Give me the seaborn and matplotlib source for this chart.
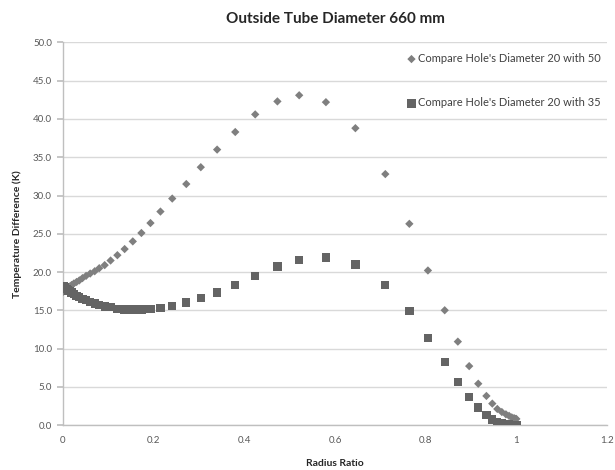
import matplotlib
matplotlib.use("Agg")
import matplotlib.pyplot as plt
import seaborn as sns
import pandas as pd

radius_ratio = [0, 0.001, 0.003, 0.005, 0.008, 0.011, 0.015, 0.019, 0.024, 0.030,
                0.036, 0.043, 0.051, 0.060, 0.070, 0.080, 0.092, 0.105, 0.120, 0.136,
                0.154, 0.173, 0.193, 0.215, 0.241, 0.272, 0.304, 0.340, 0.380, 0.424,
                0.473, 0.521, 0.580, 0.645, 0.711, 0.764, 0.805, 0.842, 0.871, 0.896,
                0.916, 0.934, 0.947, 0.958, 0.968, 0.977, 0.984, 0.990, 0.995, 0.998, 1.0]

diff_20_50 = [17.4, 17.5, 17.6, 17.7, 17.8, 17.9, 18.1, 18.3, 18.5, 18.7,
              18.9, 19.2, 19.5, 19.8, 20.1, 20.5, 20.9, 21.5, 22.2, 23.0,
              24.0, 25.1, 26.4, 27.9, 29.6, 31.5, 33.7, 36.0, 38.3, 40.6,
              42.3, 43.1, 42.2, 38.8, 32.8, 26.3, 20.2, 15.0, 10.9, 7.7,
              5.4, 3.8, 2.8, 2.1, 1.7, 1.4, 1.2, 1.0, 0.9, 0.8, 0.8]

diff_20_35 = [18.2, 18.1, 18.0, 17.9, 17.8, 17.6, 17.5, 17.3, 17.1, 16.9,
              16.7, 16.5, 16.3, 16.1, 15.9, 15.7, 15.5, 15.4, 15.2, 15.1,
              15.1, 15.1, 15.2, 15.3, 15.6, 16.0, 16.6, 17.3, 18.3, 19.5,
              20.7, 21.6, 21.9, 21.0, 18.3, 14.9, 11.4, 8.2, 5.6, 3.7,
              2.3, 1.3, 0.7, 0.4, 0.2, 0.1, 0.05, 0.0, 0.0, 0.0, 0.0]

label_50 = "Compare Hole's Diameter 20 with 50"
label_35 = "Compare Hole's Diameter 20 with 35"
x_ticks = [0, 0.2, 0.4, 0.6, 0.8, 1, 1.2]
y_ticks = [0, 5, 10, 15, 20, 25, 30, 35, 40, 45, 50]

sns.set_theme(style="white")
plt.rcParams["font.family"] = ["Lato", "DejaVu Sans"]

df50 = pd.DataFrame({"x": radius_ratio, "y": diff_20_50})
df35 = pd.DataFrame({"x": radius_ratio, "y": diff_20_35})

fig = plt.figure(figsize=(6.15, 4.7), dpi=100)
ax = fig.add_axes([0.1024, 0.0957, 0.8846, 0.8139])

sns.scatterplot(data=df50, x="x", y="y", ax=ax, marker="D", s=18,
                color="#7f7f7f", edgecolor="none", label=label_50, zorder=3)
sns.scatterplot(data=df35, x="x", y="y", ax=ax, marker="s", s=36,
                color="#646464", edgecolor="none", label=label_35, zorder=3)

ax.set_xlim(0, 1.2)
ax.set_ylim(0, 50)
ax.set_xticks(x_ticks)
ax.set_xticklabels([str(t) for t in x_ticks])
ax.set_yticks(y_ticks)
ax.set_yticklabels([f"{t:.1f}" for t in y_ticks])
ax.yaxis.grid(True, color="#d9d9d9", linewidth=1.0)
ax.xaxis.grid(False)
ax.set_axisbelow(True)
for side in ["top", "right"]:
    ax.spines[side].set_visible(False)
for side in ["left", "bottom"]:
    ax.spines[side].set_color("#bfbfbf")
    ax.spines[side].set_linewidth(1.0)
ax.tick_params(axis="y", which="major", left=True, length=4, color="#bfbfbf",
               labelsize=7, labelcolor="#595959", pad=4)
ax.tick_params(axis="x", which="major", bottom=False, length=0, labelsize=7,
               labelcolor="#595959", pad=8)

ax.set_xlabel("Radius Ratio", fontsize=7.5, fontweight="bold", color="#262626", labelpad=10)
ax.set_ylabel("Temperature Difference (K)", fontsize=7.5, fontweight="bold",
              color="#262626", labelpad=8)
ax.set_title("Outside Tube Diameter 660 mm", fontsize=11, fontweight="bold",
             color="#262626", pad=14)

leg = ax.legend(loc="upper right", bbox_to_anchor=(1.0, 0.99), frameon=False,
                fontsize=8, labelspacing=3.0, handletextpad=0.05,
                handlelength=1.0, borderaxespad=0.2)
for t in leg.get_texts():
    t.set_color("#404040")

fig.savefig("out.png", dpi=100)
